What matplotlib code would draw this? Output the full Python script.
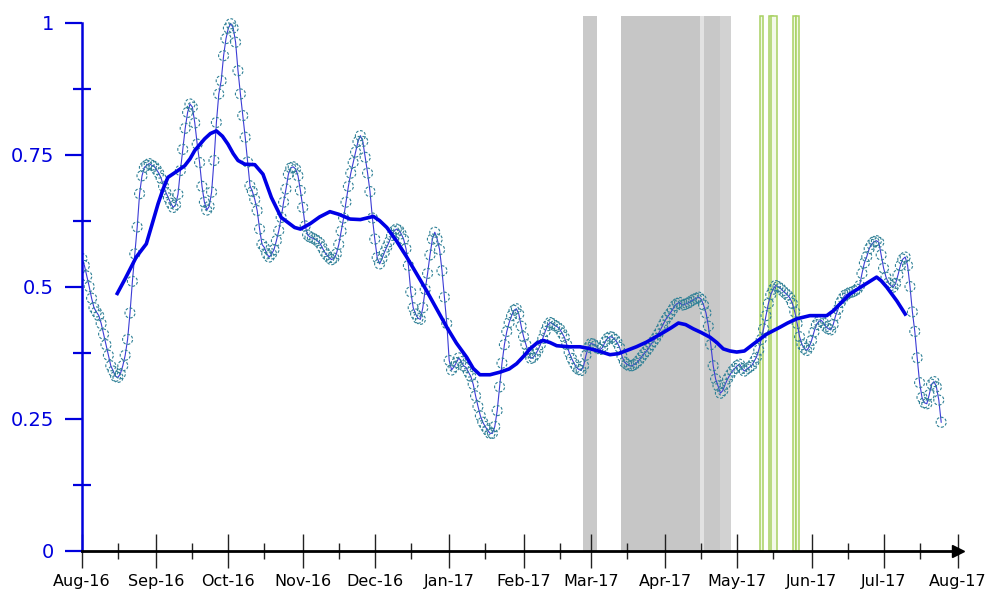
import matplotlib
matplotlib.use("Agg")
import matplotlib.pyplot as plt
import matplotlib.dates as mdates
import pandas as pd

# ---------------- data ----------------
start_date = "2016-08-01"

values = [
    0.553, 0.54, 0.52, 0.50, 0.478, 0.46, 0.452, 0.445, 0.43, 0.41,
    0.39, 0.37, 0.35, 0.34, 0.33, 0.328, 0.335, 0.35, 0.37, 0.40,
    0.45, 0.51, 0.562, 0.613, 0.676, 0.71, 0.726,
    0.73, 0.733, 0.73, 0.728, 0.722, 0.715, 0.705, 0.69, 0.678, 0.668,
    0.658, 0.65, 0.655, 0.675, 0.72, 0.76, 0.80, 0.83, 0.846, 0.84,
    0.81, 0.77, 0.735, 0.69, 0.66, 0.645, 0.652, 0.679, 0.739, 0.811,
    0.865, 0.89, 0.9375, 0.97, 0.99, 0.998, 0.99, 0.963, 0.909, 0.865,
    0.824, 0.783, 0.736, 0.691, 0.68, 0.665, 0.644, 0.609, 0.58, 0.574,
    0.562, 0.556, 0.562, 0.57, 0.587, 0.606, 0.631, 0.66, 0.685, 0.713,
    0.725, 0.727, 0.723, 0.71, 0.682, 0.65, 0.615, 0.598,
    0.594, 0.592, 0.590, 0.587, 0.583, 0.575, 0.566, 0.56, 0.555, 0.551,
    0.554, 0.562, 0.58, 0.605, 0.63, 0.66, 0.69, 0.715, 0.735, 0.755,
    0.775, 0.786, 0.775, 0.745, 0.715, 0.68, 0.63, 0.59, 0.555, 0.543,
    0.553, 0.565, 0.575, 0.585, 0.597, 0.605, 0.609, 0.607, 0.60, 0.59,
    0.572, 0.54, 0.49, 0.46, 0.448, 0.44, 0.438, 0.46, 0.495, 0.525,
    0.56, 0.59, 0.603, 0.59, 0.57, 0.53, 0.48, 0.43, 0.36, 0.342,
    0.348, 0.356, 0.365, 0.358, 0.35, 0.347, 0.338, 0.33, 0.315, 0.293,
    0.273, 0.255, 0.243, 0.235, 0.228, 0.222, 0.222, 0.235, 0.265, 0.31,
    0.355, 0.39, 0.415, 0.432, 0.445, 0.455, 0.458, 0.448, 0.425, 0.405,
    0.39, 0.375,
    0.364, 0.366, 0.372, 0.38, 0.39, 0.402, 0.415, 0.426, 0.432, 0.43,
    0.426, 0.424, 0.42, 0.412, 0.404, 0.39, 0.375, 0.364, 0.355, 0.347,
    0.343, 0.341, 0.35, 0.37, 0.385, 0.392, 0.391, 0.388, 0.383, 0.381,
    0.385, 0.396, 0.402, 0.405, 0.404, 0.40, 0.394, 0.385, 0.368, 0.357,
    0.353, 0.35, 0.35, 0.352, 0.355, 0.36, 0.366, 0.372, 0.377, 0.383,
    0.39, 0.396, 0.402, 0.41, 0.418, 0.427, 0.436, 0.443, 0.449, 0.456,
    0.464, 0.468, 0.47, 0.465, 0.466, 0.468, 0.47, 0.473, 0.476, 0.478,
    0.48, 0.476, 0.465, 0.45, 0.425, 0.39, 0.35, 0.325, 0.312, 0.298,
    0.303, 0.315, 0.325, 0.333, 0.34, 0.345, 0.35, 0.353, 0.345, 0.34,
    0.344, 0.347, 0.35, 0.358, 0.366, 0.38, 0.40, 0.42, 0.445, 0.468,
    0.485, 0.495, 0.502, 0.50, 0.497, 0.492, 0.488, 0.484, 0.478, 0.468,
    0.452, 0.43, 0.405, 0.39, 0.383, 0.379, 0.386, 0.398, 0.414, 0.428,
    0.434, 0.436, 0.431, 0.424, 0.42, 0.418, 0.428, 0.445, 0.457, 0.47,
    0.478, 0.484, 0.486, 0.489, 0.49, 0.492, 0.495, 0.502, 0.525, 0.545,
    0.557, 0.572, 0.58, 0.585, 0.587, 0.584, 0.56, 0.535, 0.518, 0.507,
    0.502, 0.499, 0.506, 0.522, 0.54, 0.552, 0.556, 0.54, 0.50, 0.452,
    0.415, 0.365, 0.318, 0.29, 0.28, 0.278, 0.295, 0.315, 0.32, 0.31,
    0.285, 0.243,
]

smooth_days = [
    14.7, 18, 22.6, 26.8, 29, 31.7, 33.8, 35.8, 40, 42.8, 45, 47, 51.1, 53.5,
    56, 58.5, 60.8, 63, 65, 67.8, 72, 75.4, 78.9, 83, 88.6, 91, 95, 99,
    103.3, 107, 111.7, 116, 121.4, 124, 127, 131, 135.3, 143.6, 152, 156,
    160.3, 163, 165.8, 170, 174.2, 178, 181.1, 184, 186.7, 189.5, 192.2,
    195, 197.8, 203, 207.5, 211, 214.4, 220, 223.5, 227, 231, 235.3, 242.2,
    245.5, 248.5, 251.5, 254.7, 258, 261.7, 264.5, 267.2, 270, 272.8, 276,
    279.7, 285.3, 290.8, 294, 297.8, 303.3, 310.3, 313, 315.8, 320, 325.5,
    331.1, 333, 335.3, 339.5, 343,
]
smooth_vals = [
    0.487, 0.515, 0.556, 0.581, 0.615, 0.657, 0.685, 0.707, 0.720, 0.729,
    0.742, 0.758, 0.780, 0.790, 0.795, 0.785, 0.770, 0.752, 0.739, 0.732,
    0.731, 0.713, 0.669, 0.631, 0.612, 0.609, 0.619, 0.632, 0.642, 0.637,
    0.628, 0.627, 0.633, 0.625, 0.612, 0.587, 0.556, 0.492, 0.423, 0.393,
    0.366, 0.345, 0.333, 0.333, 0.338, 0.344, 0.354, 0.368, 0.382, 0.393,
    0.398, 0.394, 0.388, 0.386, 0.386, 0.383, 0.379, 0.371, 0.373, 0.379,
    0.386, 0.395, 0.413, 0.422, 0.431, 0.428, 0.420, 0.413, 0.404, 0.394,
    0.382, 0.378, 0.376, 0.378, 0.391, 0.410, 0.423, 0.431, 0.439, 0.445,
    0.445, 0.454, 0.467, 0.486, 0.502, 0.518, 0.511, 0.499, 0.473, 0.448,
]

gray_starts = ["2017-02-25 18:00", "2017-03-13 14:00", "2017-04-15 12:00",
               "2017-04-17 05:00", "2017-04-23 19:00"]
gray_ends = ["2017-03-03 14:00", "2017-04-15 12:00", "2017-04-17 05:00",
             "2017-04-23 19:00", "2017-04-28 10:00"]
gray_shades = ["#c9c9c9", "#c6c6c6", "#e2e2e2", "#c8c8c8", "#d2d2d2"]

green_starts = ["2017-05-10 12:00", "2017-05-14 06:00", "2017-05-15 02:00",
                "2017-05-24 06:00", "2017-05-25 12:00"]
green_ends = ["2017-05-11 21:00", "2017-05-16 00:00", "2017-05-17 10:00",
              "2017-05-25 12:00", "2017-05-26 22:00"]

y_ticks = [0, 0.25, 0.5, 0.75, 1]
y_labels = ["0", "0.25", "0.5", "0.75", "1"]
y_minor = [0.125, 0.375, 0.625, 0.875]

# ---------------- figure ----------------
dates = pd.date_range(start_date, periods=len(values), freq="D")
t0 = pd.Timestamp(start_date)
smooth_dates = t0 + pd.to_timedelta(smooth_days, unit="D")
axis_end = pd.Timestamp("2017-08-01")

fig = plt.figure(figsize=(9.87, 5.9), dpi=100)
ax = fig.add_axes([82 / 987, 39.5 / 590, 888 / 987, 548.9 / 590])
ax.set_xlim(t0, t0 + pd.Timedelta(days=370))
ax.set_ylim(0, 1.04)

band_top = 1.013 / 1.04
for s, e, c in zip(gray_starts, gray_ends, gray_shades):
    ax.axvspan(pd.Timestamp(s), pd.Timestamp(e), ymin=0, ymax=band_top,
               color=c, lw=0, zorder=1)
for s, e in zip(green_starts, green_ends):
    ax.axvspan(pd.Timestamp(s), pd.Timestamp(e), ymin=0, ymax=band_top,
               facecolor="#f3f9e8", edgecolor="#a8d162", lw=1.1, zorder=2)

ax.plot(dates, values, color="#3c3cd6", lw=0.8, zorder=3)
ax.scatter(dates, values, s=7.2 ** 2, facecolors="none", edgecolors="#2f8096",
           linewidths=0.8, linestyles=(0, (2.5, 1.5)), zorder=4)
ax.plot(smooth_dates, smooth_vals, color="#0000e6", lw=2.6, zorder=5)

# axes styling
for side in ("top", "right"):
    ax.spines[side].set_visible(False)
ax.spines["left"].set_bounds(0, 1)
ax.spines["left"].set_color("#0000dd")
ax.spines["left"].set_linewidth(1.8)
ax.spines["left"].set_zorder(6)
ax.spines["bottom"].set_bounds(mdates.date2num(t0), mdates.date2num(axis_end))
ax.spines["bottom"].set_color("black")
ax.spines["bottom"].set_linewidth(2.0)
ax.spines["bottom"].set_zorder(6)
ax.plot([axis_end], [0], marker=">", ms=9, color="black", clip_on=False, zorder=7)

ax.xaxis.set_major_locator(mdates.MonthLocator())
ax.xaxis.set_minor_locator(mdates.MonthLocator(bymonthday=16))
ax.xaxis.set_major_formatter(mdates.DateFormatter("%b-%y"))
ax.tick_params(axis="x", which="major", direction="inout", length=24, width=1.0,
               color="#222222", labelsize=11.5, pad=5, labelcolor="black")
ax.tick_params(axis="x", which="minor", direction="inout", length=12, width=1.0,
               color="#222222")

ax.set_yticks(y_ticks)
ax.set_yticklabels(y_labels)
ax.set_yticks(y_minor, minor=True)
ax.tick_params(axis="y", which="major", direction="out", length=12, width=1.6,
               color="#0000dd", labelcolor="#0000dd", labelsize=14, pad=8)
ax.tick_params(axis="y", which="minor", direction="inout", length=13, width=1.6,
               color="#0000dd")

fig.savefig("out.png", dpi=100)
